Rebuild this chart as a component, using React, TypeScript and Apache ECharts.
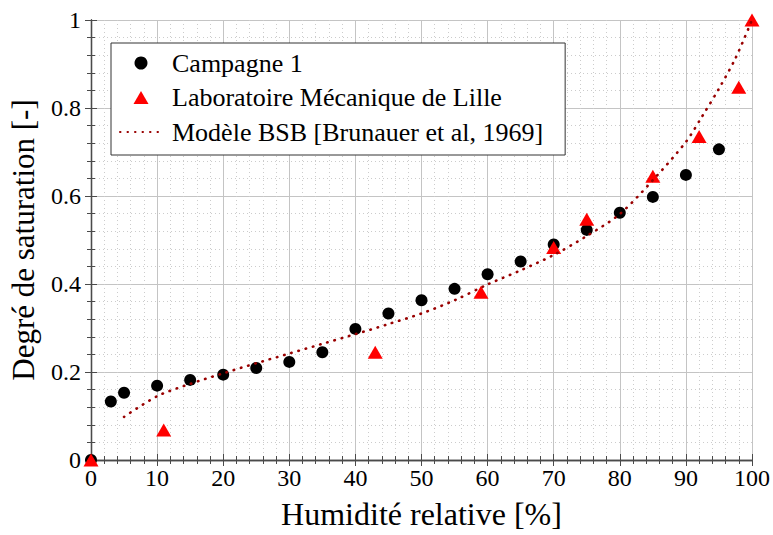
import React, { useEffect, useRef } from "react";
import * as echarts from "echarts";

const campagneX = [0, 3, 5, 10, 15, 20, 25, 30, 35, 40, 45, 50, 55, 60, 65, 70, 75, 80, 85, 90, 95];
const campagneY = [0, 0.133, 0.153, 0.169, 0.182, 0.194, 0.209, 0.223, 0.245, 0.298, 0.333, 0.363, 0.389, 0.422, 0.451, 0.49, 0.523, 0.562, 0.598, 0.648, 0.706];

const lmlX = [0, 11, 43, 59, 70, 75, 85, 92, 98, 100];
const lmlY = [0, 0.068, 0.245, 0.381, 0.483, 0.547, 0.645, 0.735, 0.847, 1.0];

const bsbX = [5, 10, 15, 20, 25, 30, 35, 40, 45, 50, 55, 60, 65, 70, 75, 80, 85, 90, 92.5, 95, 97.5, 100];
const bsbY = [0.098, 0.145, 0.173, 0.197, 0.22, 0.242, 0.264, 0.286, 0.309, 0.333, 0.363, 0.399, 0.431, 0.466, 0.509, 0.559, 0.636, 0.723, 0.782, 0.844, 0.913, 1.0];

const seriesNames = ["Campagne 1", "Laboratoire Mécanique de Lille", "Modèle BSB [Brunauer et al, 1969]"];
const xTitle = "Humidité relative [%]";
const yTitle = "Degré de saturation [-]";

const FONT = "'Liberation Serif', 'DejaVu Serif', serif";
const FRAME = "#4a4a4a";
const DOTTED = "#990000";

const zip = (xs: number[], ys: number[]) => xs.map((x, i) => [x, ys[i]]);

export default function App() {
  const ref = useRef<HTMLDivElement>(null);
  useEffect(() => {
    if (!ref.current) return;
    const chart = echarts.init(ref.current, null, { renderer: "svg" });
    const frameAxis = {
      axisLine: { show: true, lineStyle: { color: FRAME, width: 1.3 } },
      axisTick: { show: true, inside: true, length: 6, lineStyle: { color: FRAME, width: 1 } },
      minorTick: { show: true, splitNumber: 5, length: 4, lineStyle: { color: FRAME, width: 1 } },
    };
    const labelStyle = { fontFamily: FONT, fontSize: 24, color: "#000" };
    chart.setOption({
      animation: false,
      backgroundColor: "#fff",
      grid: { left: 91, right: 21, top: 20, bottom: 75, containLabel: false, outerBoundsMode: "none" },
      legend: {
        orient: "vertical",
        left: 111,
        top: 43,
        padding: [7, 22, 10, 8],
        itemGap: 8.5,
        itemWidth: 42,
        itemHeight: 13,
        borderColor: "#333",
        borderWidth: 1,
        backgroundColor: "#fff",
        textStyle: { fontFamily: FONT, fontSize: 26, color: "#000", lineHeight: 24, padding: [0, 0, 0, 5] },
        data: [
          { name: seriesNames[0], icon: "circle" },
          { name: seriesNames[1], icon: "path://M0,13 L7.5,0 L15,13 Z" },
          { name: seriesNames[2], itemStyle: { opacity: 0, color: "rgba(0,0,0,0)", borderWidth: 0 } },
        ],
      },
      xAxis: [
        {
          type: "value",
          min: 0,
          max: 100,
          interval: 10,
          position: "bottom",
          ...frameAxis,
          splitLine: { show: true, lineStyle: { color: "#c4c4c4", width: 1 } },
          minorSplitLine: { show: true, lineStyle: { color: "#cccccc", width: 1, type: [1, 3] } },
          axisLabel: { ...labelStyle, margin: 6 },
          name: xTitle,
          nameLocation: "middle",
          nameGap: 38,
          nameTextStyle: { fontFamily: FONT, fontSize: 32, color: "#000" },
        },
        {
          type: "value",
          min: 0,
          max: 100,
          interval: 10,
          position: "top",
          ...frameAxis,
          splitLine: { show: false },
          axisLabel: { show: false },
        },
      ],
      yAxis: [
        {
          type: "value",
          min: 0,
          max: 1,
          interval: 0.2,
          position: "left",
          ...frameAxis,
          splitLine: { show: true, lineStyle: { color: "#c4c4c4", width: 1 } },
          minorSplitLine: { show: true, lineStyle: { color: "#cccccc", width: 1, type: [1, 3] } },
          axisLabel: { ...labelStyle, margin: 10, formatter: (v: number) => String(+v.toFixed(1)) },
          name: yTitle,
          nameLocation: "middle",
          nameGap: 52,
          nameTextStyle: { fontFamily: FONT, fontSize: 31, color: "#000" },
        },
        {
          type: "value",
          min: 0,
          max: 1,
          interval: 0.2,
          position: "right",
          ...frameAxis,
          splitLine: { show: false },
          axisLabel: { show: false },
        },
      ],
      series: [
        {
          name: seriesNames[0],
          type: "scatter",
          data: zip(campagneX, campagneY),
          symbol: "circle",
          symbolSize: 12,
          itemStyle: { color: "#000", opacity: 1 },
          clip: false,
          z: 3,
        },
        {
          name: seriesNames[1],
          type: "scatter",
          data: zip(lmlX, lmlY),
          symbol: "triangle",
          symbolSize: [15, 13],
          itemStyle: { color: "#ff0000", opacity: 1 },
          clip: false,
          z: 4,
        },
        {
          name: seriesNames[2],
          type: "line",
          data: zip(bsbX, bsbY),
          symbol: "none",
          showSymbol: false,
          smooth: 0.3,
          lineStyle: { color: DOTTED, width: 2.6, type: [0.5, 7], cap: "round" },
          itemStyle: { color: DOTTED },
          z: 5,
        },
      ],
    });
    return () => chart.dispose();
  }, []);
  return <div ref={ref} style={{ width: 773, height: 535, position: "absolute", left: 0, top: 0 }} />;
}
